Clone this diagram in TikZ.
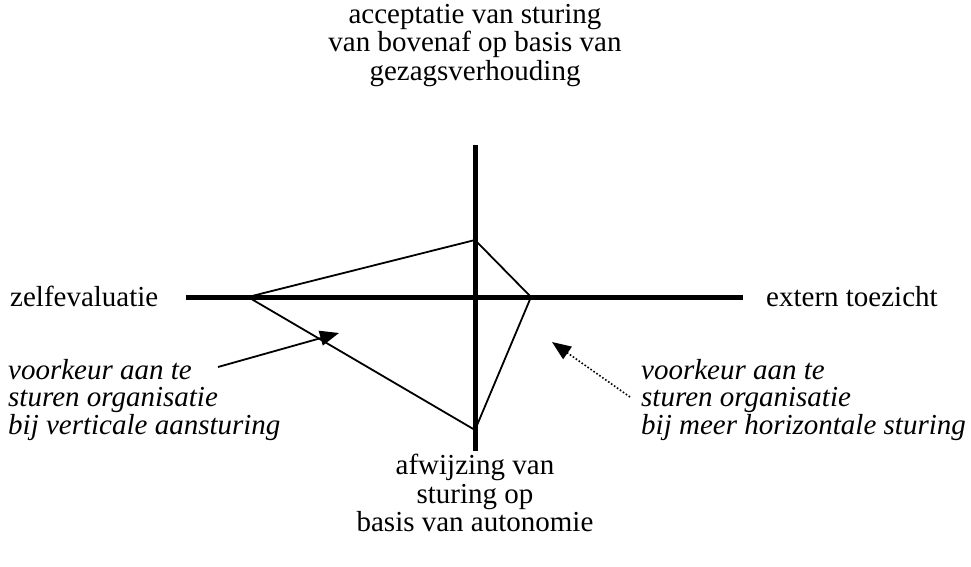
\documentclass[tikz,border=0pt]{standalone}
\usepackage{fontspec}
\setmainfont{Liberation Serif}
\usetikzlibrary{arrows.meta}
\begin{document}
\begin{tikzpicture}[x=1pt,y=-1pt,
  axisline/.style={line width=5pt},
  profileline/.style={line width=1.8pt, line join=miter},
  pointer/.style={line width=1.8pt, -{Triangle[length=19pt,width=15pt]}},
  hintpointer/.style={line width=1.6pt, dotted, -{Triangle[length=19pt,width=15pt]}},
  axislabel/.style={inner sep=0pt, font=\fontsize{29}{28.5}\selectfont},
  notetext/.style={inner sep=0pt, align=left, font=\fontsize{29}{27.5}\selectfont\itshape}]
  \useasboundingbox (0,0) rectangle (971,567);

  % axes
  \coordinate (top)    at (475,145);
  \coordinate (bottom) at (475,451);
  \coordinate (left)   at (186,297);
  \coordinate (right)  at (743,297);
  \draw[axisline] (left) -- (right);
  \draw[axisline] (top) -- (bottom);

  % profile
  \coordinate (pW) at (248,297);
  \coordinate (pN) at (475,240);
  \coordinate (pE) at (531,297);
  \coordinate (pS) at (475,430);
  \draw[profileline] (pW) -- (pN) -- (pE) -- (pS) -- cycle;

  % axis labels
  \node[axislabel, anchor=north, align=center] (north) at (475,4)
    {acceptatie van sturing\\van bovenaf op basis van\\gezagsverhouding};
  \node[axislabel, anchor=north, align=center] (south) at (475,454)
    {afwijzing van\\sturing op\\basis van autonomie};
  \node[axislabel, anchor=base west] (west) at (10,306) {zelfevaluatie};
  \node[axislabel, anchor=base west] (east) at (766,306) {extern toezicht};

  % annotations
  \node[notetext, anchor=north west] (noteL) at (8,359)
    {voorkeur aan te\\sturen organisatie\\bij verticale aansturing};
  \node[notetext, anchor=north west] (noteR) at (641,359)
    {voorkeur aan te\\sturen organisatie\\bij meer horizontale sturing};

  \coordinate (aL) at (218,367);
  \coordinate (aLtip) at (339,333);
  \coordinate (aR) at (630,397);
  \coordinate (aRtip) at (552,342);
  \draw[pointer] (aL) -- (aLtip);
  \draw[hintpointer] (aR) -- (aRtip);
\end{tikzpicture}
\end{document}
